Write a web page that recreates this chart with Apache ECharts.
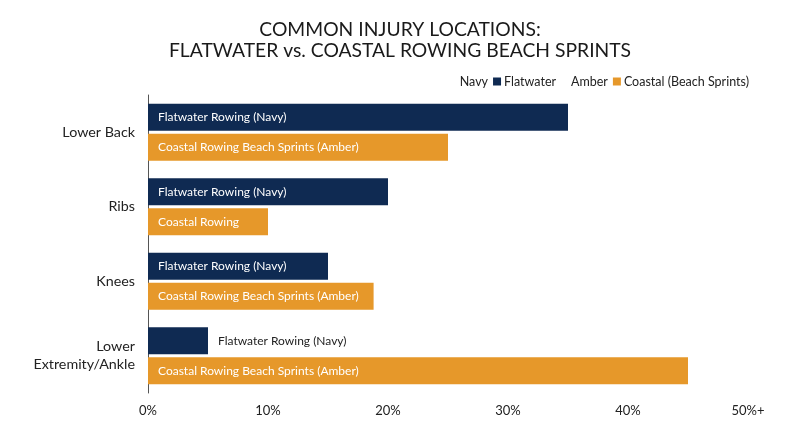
<!DOCTYPE html>
<html><head><meta charset="utf-8">
<script src="https://cdn.jsdelivr.net/npm/echarts@6/dist/echarts.min.js"></script>
<style>html,body{margin:0;padding:0;background:#fff}#c{width:800px;height:447px}</style>
</head><body><div id="c"></div>
<script>
var categories = ['Lower Back', 'Ribs', 'Knees', 'Lower\nExtremity/Ankle'];
var flatwater = [35, 20, 15, 5];
var coastal = [25, 10, 18.8, 45];
var flatLabels = ['Flatwater Rowing (Navy)', 'Flatwater Rowing (Navy)', 'Flatwater Rowing (Navy)', 'Flatwater Rowing (Navy)'];
var coastalLabels = ['Coastal Rowing Beach Sprints (Amber)', 'Coastal Rowing', 'Coastal Rowing Beach Sprints (Amber)', 'Coastal Rowing Beach Sprints (Amber)'];
var xTicks = ['0%', '10%', '20%', '30%', '40%', '50%+'];

var NAVY = '#0f2a52', AMBER = '#e6982a';
var FONT = 'Lato';

function mk(vals, labels, color, outsideIdx) {
  return vals.map(function (v, i) {
    var outside = outsideIdx.indexOf(i) >= 0;
    return {
      value: v,
      label: {
        show: true,
        formatter: labels[i],
        position: outside ? 'right' : 'insideLeft',
        distance: 10,
        color: outside ? '#222' : '#fff',
        fontSize: 12,
        fontFamily: FONT
      }
    };
  });
}

var chart = echarts.init(document.getElementById('c'));
chart.setOption({
  backgroundColor: '#fff',
  animation: false,
  title: {
    text: 'COMMON INJURY LOCATIONS:\nFLATWATER vs. COASTAL ROWING BEACH SPRINTS',
    left: 'center',
    top: 14,
    textStyle: { fontFamily: FONT, fontSize: 19.3, fontWeight: 'normal', color: '#1a1a1a', lineHeight: 21 }
  },
  legend: {
    right: 46,
    top: 70,
    icon: 'none',
    itemWidth: 0,
    itemHeight: 0,
    itemGap: 10,
    textStyle: {
      fontFamily: FONT, fontSize: 12.5, color: '#222',
      rich: {
        n: { width: 8, height: 8, backgroundColor: NAVY },
        a: { width: 8, height: 8, backgroundColor: AMBER },
        s: { width: 5 },
        q: { width: 3 },
        t: { fontFamily: FONT, fontSize: 12.5, color: '#222' }
      }
    },
    formatter: function (name) {
      return name === 'Flatwater' ? '{t|Navy}{s|}{n|}{q|}{t|Flatwater}' : '{t|Amber}{s|}{a|}{q|}{t|Coastal (Beach Sprints)}';
    },
    data: ['Flatwater', 'Coastal (Beach Sprints)']
  },
  grid: { left: 148, right: 52, top: 95, bottom: 54, containLabel: false },
  xAxis: {
    type: 'value', min: 0, max: 50, interval: 10,
    axisLine: { show: false }, axisTick: { show: false }, splitLine: { show: false },
    axisLabel: {
      fontFamily: FONT, fontSize: 13, color: '#222', margin: 11,
      formatter: function (v) { return xTicks[Math.round(v / 10)]; }
    }
  },
  yAxis: {
    type: 'category', data: categories, inverse: true,
    axisLine: { show: true, lineStyle: { color: '#555', width: 1 } },
    axisTick: { show: false },
    axisLabel: { fontFamily: FONT, fontSize: 14.3, color: '#222', margin: 13, align: 'right', lineHeight: 18 }
  },
  series: [
    { name: 'Flatwater', type: 'bar', data: mk(flatwater, flatLabels, NAVY, [3]), itemStyle: { color: NAVY }, barWidth: 27, barGap: '12%' },
    { name: 'Coastal (Beach Sprints)', type: 'bar', data: mk(coastal, coastalLabels, AMBER, []), itemStyle: { color: AMBER }, barWidth: 27, barGap: '12%' }
  ]
});
</script></body></html>
